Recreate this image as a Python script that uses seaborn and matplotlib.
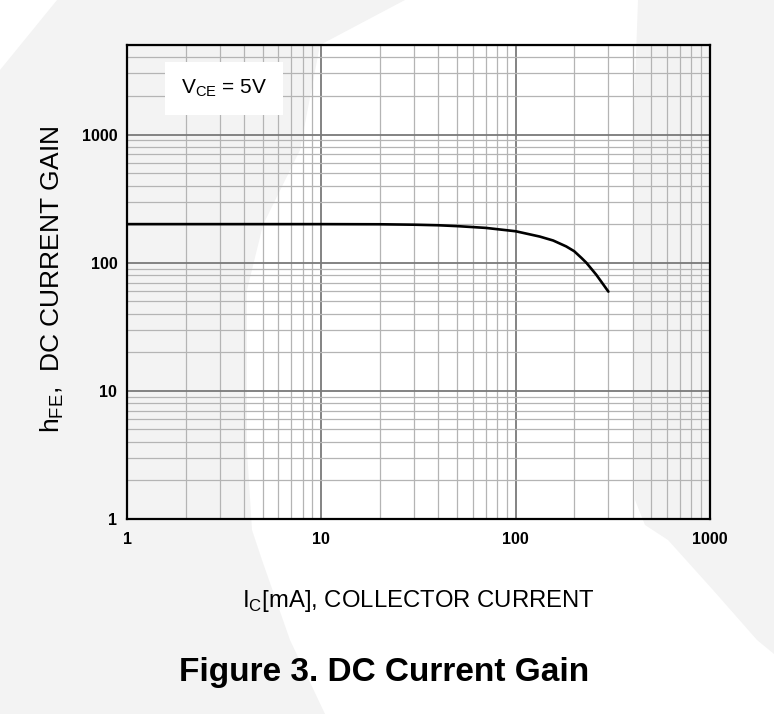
import numpy as np
import seaborn as sns
import matplotlib
matplotlib.use("Agg")
import matplotlib.pyplot as plt
from matplotlib.patches import Polygon
from matplotlib.ticker import LogLocator, NullFormatter

# collector current [mA] vs DC current gain
ic_ma = [1, 10, 20, 30, 40, 50, 70, 100, 133, 156, 182, 200, 218, 231, 260, 300]
hfe = [200, 200, 199.5, 198, 196, 193, 187, 176, 160, 149, 134, 123, 109, 100, 80.5, 59.5]

x_ticks = [1, 10, 100, 1000]
x_ticklabels = ["1", "10", "100", "1000"]
y_ticks = [1, 10, 100, 1000]
y_ticklabels = ["1", "10", "100", "1000"]

W, H = 774, 714

sns.set_theme(style="white")
plt.rcParams['font.family'] = ['Liberation Sans', 'DejaVu Sans']
plt.rcParams['mathtext.fontset'] = 'custom'
plt.rcParams['mathtext.rm'] = 'Liberation Sans'

fig = plt.figure(figsize=(W / 100, H / 100), dpi=100)
fig.patch.set_facecolor("white")


def px_poly(points, color="#f3f3f3"):
    # scanned page shading, given in pixel coords (y from top)
    pts = [(x / W, 1 - y / H) for x, y in points]
    fig.patches.append(Polygon(pts, closed=True, transform=fig.transFigure,
                               facecolor=color, edgecolor="none", zorder=-5))


px_poly([(57, 0), (405, 0), (320, 45), (300, 150), (263, 225), (247, 290),
         (247, 450), (252, 530), (262, 560), (290, 640), (325, 714),
         (0, 714), (0, 70)])
px_poly([(638, 0), (774, 0), (774, 654), (757, 640), (713, 590), (668, 540),
         (645, 525), (635, 500), (633, 140)])

ax = fig.add_axes([127 / W, 1 - 519 / H, (710 - 127) / W, (519 - 45) / H])
ax.set_facecolor("none")

sns.lineplot(x=ic_ma, y=hfe, color="black", linewidth=1.9, ax=ax, sort=False)

ax.set_xscale("log")
ax.set_yscale("log")
ax.set_xlim(1, 1000)
ax.set_ylim(1, 5000)

ax.xaxis.set_minor_locator(LogLocator(base=10, subs=np.arange(2, 10)))
ax.yaxis.set_minor_locator(LogLocator(base=10, subs=np.arange(2, 10)))
ax.xaxis.set_minor_formatter(NullFormatter())
ax.yaxis.set_minor_formatter(NullFormatter())
ax.set_xticks(x_ticks, x_ticklabels)
ax.set_yticks(y_ticks, y_ticklabels)

ax.set_axisbelow(True)
ax.grid(which="major", color="#7a7a7a", linewidth=1.3)
ax.grid(which="minor", color="#b4b4b4", linewidth=0.9)

ax.tick_params(which="both", length=0)
ax.tick_params(axis="x", pad=9, labelsize=11.5)
ax.tick_params(axis="y", pad=7, labelsize=11.5)
for lbl in ax.get_xticklabels() + ax.get_yticklabels():
    lbl.set_fontweight("bold")
    lbl.set_color("black")

for s in ax.spines.values():
    s.set_color("black")
    s.set_linewidth(1.6)
    s.set_visible(True)

ax.set_xlabel(r"I$_\mathregular{C}$[mA], COLLECTOR CURRENT", fontsize=17.2, color="black")
ax.xaxis.set_label_coords(0.5, -0.145)
ax.set_ylabel(r"h$_\mathregular{FE}$,  DC CURRENT GAIN", fontsize=19, color="black")
ax.yaxis.set_label_coords(-0.104, 0.506)

ax.text(0.166, 0.909, r"V$_\mathregular{CE}$ = 5V", transform=ax.transAxes,
        fontsize=15, ha="center", va="center", color="black",
        bbox=dict(boxstyle="square,pad=0.75", facecolor="white", edgecolor="none"))

fig.text(384 / W, 1 - 672 / H, "Figure 3. DC Current Gain", fontsize=24,
         fontweight="bold", ha="center", va="center", color="black")

fig.savefig("out.png", dpi=100)
